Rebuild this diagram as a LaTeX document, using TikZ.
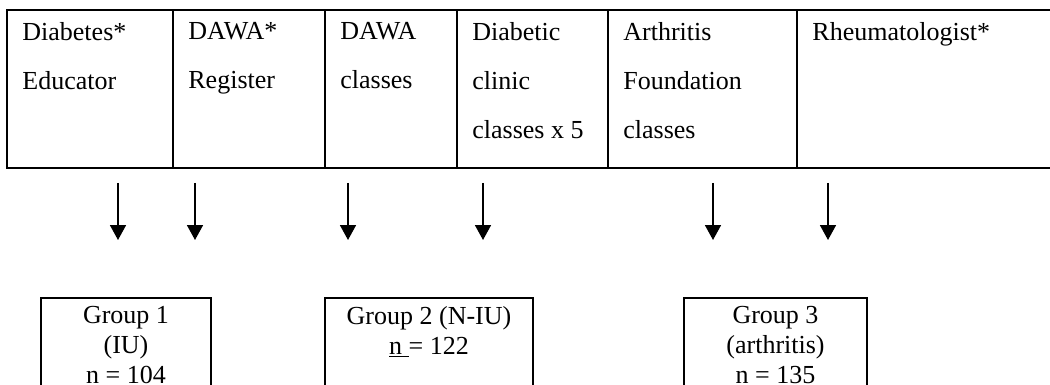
\documentclass[tikz,border=0pt]{standalone}
\usepackage{fontspec}
\setmainfont{Liberation Serif}
\usetikzlibrary{positioning, arrows.meta}

\begin{document}
\begin{tikzpicture}[
  x=1pt, y=1pt,
  every node/.style={font=\fontsize{13}{24.5}\selectfont},
  cell/.style={draw, line width=1pt, anchor=north west, minimum height=79pt, inner sep=0pt, outer sep=0pt},
  celltext/.style={anchor=north west, align=left, inner sep=0pt},
  group/.style={draw, line width=1pt, anchor=north, align=center, inner xsep=0pt, inner ysep=4pt, text depth=50pt, font=\fontsize{13}{15}\selectfont},
  flow/.style={line width=0.85pt, -{Triangle[length=7.5pt, width=8pt]}}
]
\useasboundingbox (0,0) rectangle (525,-192.5);

% Sources of recruitment
\node[cell, minimum width=83pt] (educator) at (3.5,-5) {};
\node[cell, minimum width=76pt, right=0pt of educator] (register) {};
\node[cell, minimum width=66pt, right=0pt of register] (dawaclasses) {};
\node[cell, minimum width=75.5pt, right=0pt of dawaclasses] (clinic) {};
\node[cell, minimum width=94.5pt, right=0pt of clinic] (foundation) {};
\node[cell, minimum width=150pt, right=0pt of foundation] (rheum) {};

\node[celltext] (educator-text) at ([shift={(7.5,-6)}]educator.north west) {Diabetes*\\Educator};
\node[celltext] (register-text) at ([shift={(7.5,-6)}]register.north west) {DAWA*\\Register};
\node[celltext] (dawaclasses-text) at ([shift={(7.5,-6)}]dawaclasses.north west) {DAWA\\classes};
\node[celltext] (clinic-text) at ([shift={(7.5,-6)}]clinic.north west) {Diabetic\\clinic\\classes x 5};
\node[celltext] (foundation-text) at ([shift={(7.5,-6)}]foundation.north west) {Arthritis\\Foundation\\classes};
\node[celltext] (rheum-text) at ([shift={(7.5,-6)}]rheum.north west) {Rheumatologist*};

% Study groups
\node[group, minimum width=85pt] (iu) at (63,-148.5) {Group 1\\(IU)\\n = 104};
\node[group, minimum width=104pt] (niu) at (214.5,-148.5) {Group 2 (N-IU)\\\underline{n\ }= 122};
\node[group, minimum width=91.5pt] (arthritis) at (387.75,-148.5) {Group 3\\(arthritis)\\n = 135};

% Arrows
\foreach \cellname/\xpos in {educator/59, register/97.5, dawaclasses/174, clinic/241.5, foundation/356.5, rheum/414} {
  \coordinate (\cellname-from) at (\xpos,-91.5);
  \coordinate (\cellname-to) at (\xpos,-120);
  \draw[flow] (\cellname-from) -- (\cellname-to);
}

\end{tikzpicture}
\end{document}
